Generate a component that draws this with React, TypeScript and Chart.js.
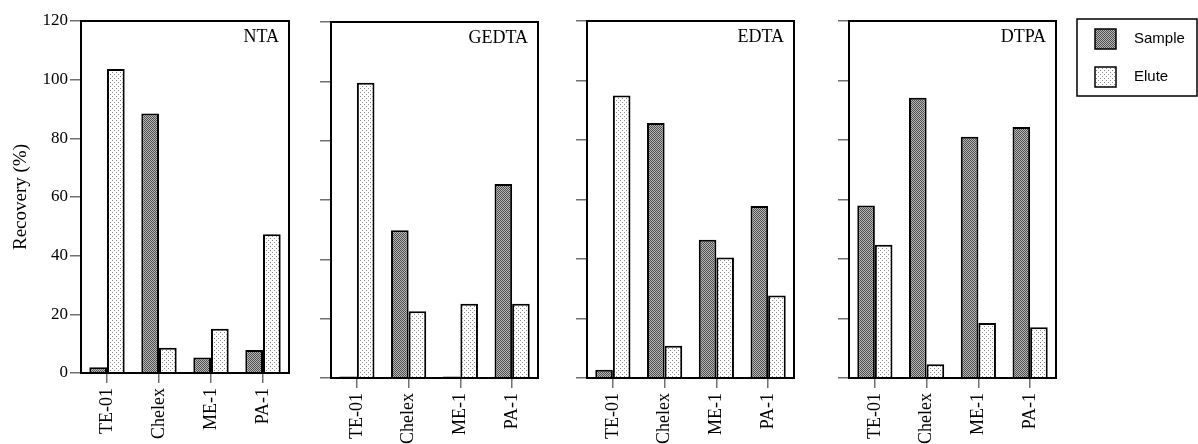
import React, { useEffect, useRef } from 'react';
import { Chart, registerables } from 'chart.js';

Chart.register(...registerables);

// ---------- data ----------
const categories = ['TE-01', 'Chelex', 'ME-1', 'PA-1'];
const panelNames = ['NTA', 'GEDTA', 'EDTA', 'DTPA'];
const seriesNames = ['Sample', 'Elute'];
const yAxisTitle = 'Recovery (%)';
const yMin = 0;
const yMax = 120;
const yStep = 20;

const ntaSample = [2.0, 88.5, 5.3, 7.8];
const ntaElute = [103.6, 8.6, 15.1, 47.3];
const gedtaSample = [0.5, 49.8, 0.5, 65.4];
const gedtaElute = [99.5, 22.5, 25.0, 25.0];
const edtaSample = [2.8, 85.7, 46.5, 57.8];
const edtaElute = [95.0, 10.8, 40.5, 27.7];
const dtpaSample = [58.0, 94.2, 81.1, 84.4];
const dtpaElute = [44.8, 4.6, 18.5, 17.1];

const sampleSeries = [ntaSample, gedtaSample, edtaSample, dtpaSample];
const eluteSeries = [ntaElute, gedtaElute, edtaElute, dtpaElute];

// ---------- layout (page pixels) ----------
const H = 444;
type Layout = {
  left: number;
  width: number;
  areaLeft: number;
  areaRight: number;
  areaTop: number;
  areaBottom: number;
  yLabels: boolean;
  legend: boolean;
};
const layouts: Layout[] = [
  { left: 0, width: 300, areaLeft: 81, areaRight: 289, areaTop: 21, areaBottom: 373, yLabels: true, legend: false },
  { left: 300, width: 260, areaLeft: 331, areaRight: 538, areaTop: 22, areaBottom: 378, yLabels: false, legend: false },
  { left: 560, width: 262, areaLeft: 587, areaRight: 794, areaTop: 21, areaBottom: 378, yLabels: false, legend: false },
  { left: 822, width: 376, areaLeft: 849, areaRight: 1056, areaTop: 21, areaBottom: 378, yLabels: false, legend: true },
];

const SERIF = '"Liberation Serif", "Times New Roman", serif';
const SANS = '"Liberation Sans", Arial, sans-serif';
const TICK_COLOR = '#707070';

function makeSamplePattern(ctx: CanvasRenderingContext2D) {
  const t = document.createElement('canvas');
  t.width = 2;
  t.height = 2;
  const c = t.getContext('2d')!;
  c.fillStyle = '#b8b8b8';
  c.fillRect(0, 0, 2, 2);
  c.fillStyle = '#4e4e4e';
  c.fillRect(0, 0, 1, 1);
  c.fillRect(1, 1, 1, 1);
  return ctx.createPattern(t, 'repeat')!;
}

function makeElutePattern(ctx: CanvasRenderingContext2D) {
  const t = document.createElement('canvas');
  t.width = 4;
  t.height = 4;
  const c = t.getContext('2d')!;
  c.fillStyle = '#ffffff';
  c.fillRect(0, 0, 4, 4);
  c.fillStyle = '#8a8a8a';
  c.fillRect(0, 0, 1, 1);
  c.fillRect(2, 2, 1, 1);
  return ctx.createPattern(t, 'repeat')!;
}

const framePlugin = {
  id: 'panelFrame',
  afterDraw(chart: any, _args: any, opts: any) {
    const { ctx, chartArea } = chart;
    ctx.save();
    ctx.strokeStyle = '#000';
    ctx.lineWidth = 2;
    ctx.strokeRect(chartArea.left, chartArea.top, chartArea.right - chartArea.left, chartArea.bottom - chartArea.top);
    if (opts && opts.text) {
      ctx.fillStyle = '#000';
      ctx.font = `18px ${SERIF}`;
      ctx.textAlign = 'right';
      ctx.textBaseline = 'alphabetic';
      ctx.fillText(opts.text, chartArea.right - 10, chartArea.top + 21);
    }
    ctx.restore();
  },
};

const boxLegendPlugin = {
  id: 'boxLegend',
  afterDraw(chart: any, _args: any, opts: any) {
    if (!opts || !opts.show) return;
    const { ctx } = chart;
    const x0 = opts.x;
    const y0 = opts.y;
    ctx.save();
    ctx.strokeStyle = '#000';
    ctx.lineWidth = 1.5;
    ctx.strokeRect(x0, y0, 120, 77);
    chart.data.datasets.forEach((ds: any, i: number) => {
      const sy = y0 + 10 + i * 38;
      ctx.fillStyle = ds.backgroundColor;
      ctx.fillRect(x0 + 18, sy, 21, 20);
      ctx.lineWidth = 1.5;
      ctx.strokeStyle = '#000';
      ctx.strokeRect(x0 + 18, sy, 21, 20);
      ctx.fillStyle = '#000';
      ctx.font = `15px ${SANS}`;
      ctx.textAlign = 'left';
      ctx.textBaseline = 'middle';
      ctx.fillText(ds.label, x0 + 57, sy + 10);
    });
    ctx.restore();
  },
};

function Panel({ idx }: { idx: number }) {
  const ref = useRef<HTMLCanvasElement>(null);
  const L = layouts[idx];

  useEffect(() => {
    const canvas = ref.current!;
    const ctx = canvas.getContext('2d')!;
    const samplePat = makeSamplePattern(ctx);
    const elutePat = makeElutePattern(ctx);

    const chart = new Chart(canvas, {
      type: 'bar',
      data: {
        labels: categories,
        datasets: [
          {
            label: seriesNames[0],
            data: sampleSeries[idx],
            backgroundColor: samplePat as any,
            borderColor: '#000',
            borderWidth: 2,
            categoryPercentage: 0.68,
            barPercentage: 1.0,
          },
          {
            label: seriesNames[1],
            data: eluteSeries[idx],
            backgroundColor: elutePat as any,
            borderColor: '#000',
            borderWidth: 2,
            categoryPercentage: 0.68,
            barPercentage: 1.0,
          },
        ],
      },
      plugins: [framePlugin, boxLegendPlugin],
      options: {
        responsive: false,
        animation: false,
        devicePixelRatio: 1,
        layout: {
          padding: {
            top: L.areaTop,
            right: L.left + L.width - L.areaRight,
            left: 0,
            bottom: 0,
          },
        },
        plugins: {
          legend: { display: false },
          tooltip: { enabled: false },
          panelFrame: { text: panelNames[idx] },
          boxLegend: { show: L.legend, x: 1077 - L.left, y: 19 },
        } as any,
        scales: {
          x: {
            type: 'category',
            offset: true,
            grid: {
              offset: false,
              drawOnChartArea: false,
              drawTicks: true,
              tickLength: 10,
              color: TICK_COLOR,
              lineWidth: 1.5,
            },
            border: { display: false },
            ticks: {
              autoSkip: false,
              minRotation: 90,
              maxRotation: 90,
              padding: 5,
              color: '#000',
              font: { family: SERIF, size: 18 },
            },
            afterFit: (scale: any) => {
              scale.height = H - L.areaBottom;
            },
          },
          y: {
            min: yMin,
            max: yMax,
            grid: {
              drawOnChartArea: false,
              drawTicks: true,
              tickLength: 11,
              color: TICK_COLOR,
              lineWidth: 1.5,
            },
            border: { display: false },
            ticks: {
              display: L.yLabels,
              stepSize: yStep,
              padding: 2,
              color: '#000',
              font: { family: SERIF, size: 17 },
            },
            title: {
              display: L.yLabels,
              text: yAxisTitle,
              color: '#000',
              font: { family: SERIF, size: 19 },
              padding: { top: 10, bottom: 0 },
            },
            afterFit: (scale: any) => {
              scale.width = L.areaLeft - L.left;
            },
          },
        },
      },
    } as any);
    return () => chart.destroy();
  }, [idx]);

  return (
    <canvas
      ref={ref}
      width={L.width}
      height={H}
      style={{ position: 'absolute', left: L.left, top: 0, width: L.width, height: H }}
    />
  );
}

export default function App() {
  return (
    <div
      style={{
        position: 'fixed',
        left: 0,
        top: 0,
        width: 1198,
        height: H,
        background: '#fff',
        overflow: 'hidden',
      }}
    >
      {layouts.map((_, i) => (
        <Panel key={i} idx={i} />
      ))}
    </div>
  );
}
